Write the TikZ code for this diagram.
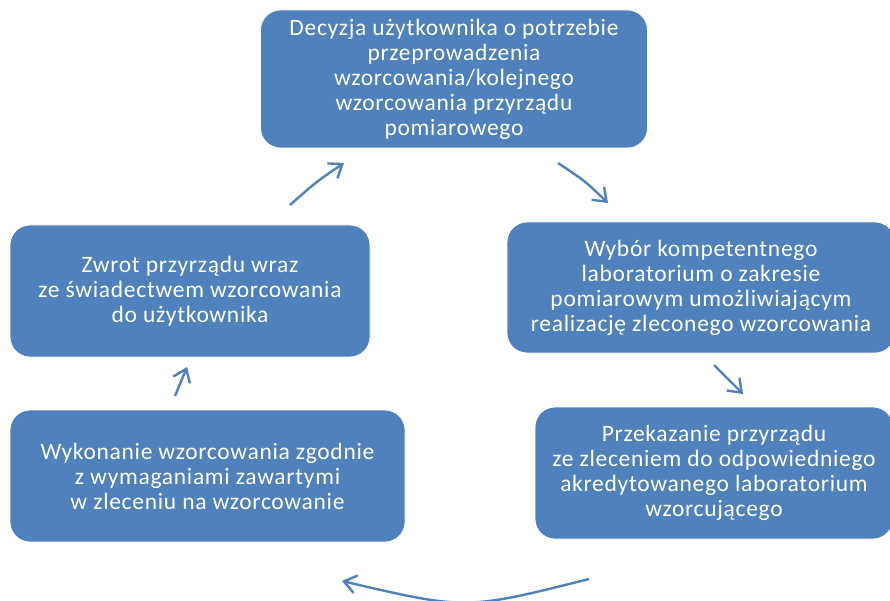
\documentclass[tikz,border=0pt]{standalone}
\usepackage{fontspec}
\setmainfont{Carlito}[LetterSpace=3]
\usetikzlibrary{arrows.meta}
\definecolor{boxblue}{HTML}{4F81BD}
\tikzset{
  stagebox/.style={fill=boxblue, draw=white, line width=0.8pt, rounded corners=20pt,
    text=white, align=center, inner sep=0pt,
    font=\fontsize{23.5}{25}\selectfont},
  flowarrow/.style={draw=boxblue, line width=2.4pt,
    -{Straight Barb[length=12pt,width=18pt,line width=2.4pt]}}
}
\begin{document}
\begin{tikzpicture}[x=1pt,y=-1pt]
\clip (0,0) rectangle (890,601);
\fill[white] (0,0) rectangle (890,601);
\node[stagebox, minimum width=387pt, minimum height=138pt] (decision) at (454,79)
  {Decyzja użytkownika o potrzebie\\przeprowadzenia\\wzorcowania/kolejnego\\wzorcowania przyrządu\\pomiarowego};
\node[stagebox, minimum width=388pt, minimum height=131pt] (choice) at (701,287.5)
  {Wybór kompetentnego\\laboratorium o zakresie\\pomiarowym umożliwiającym\\realizację zleconego wzorcowania};
\node[stagebox, minimum width=358pt, minimum height=132pt] (handover) at (714,473)
  {Przekazanie przyrządu\\ze zleceniem do odpowiedniego\\akredytowanego laboratorium\\wzorcującego};
\node[stagebox, minimum width=395pt, minimum height=132pt] (execution) at (207.5,476)
  {Wykonanie wzorcowania zgodnie\\z wymaganiami zawartymi\\w zleceniu na wzorcowanie};
\node[stagebox, minimum width=360pt, minimum height=132pt] (return) at (190,291)
  {Zwrot przyrządu wraz\\ze świadectwem wzorcowania\\do użytkownika};
% arrow end points
\coordinate (a1s) at (290,205); \coordinate (a1e) at (344,163);
\coordinate (a2s) at (558,163); \coordinate (a2e) at (608,203);
\coordinate (a3s) at (714,365); \coordinate (a3e) at (743,394);
\coordinate (a4s) at (589,579); \coordinate (a4e) at (342,581);
\coordinate (a5s) at (175,396); \coordinate (a5e) at (187,367);
\draw[flowarrow] (a1s) .. controls (316,182) .. (a1e);
\draw[flowarrow] (a2s) .. controls (585,181) .. (a2e);
\draw[flowarrow] (a3s) -- (a3e);
\draw[flowarrow] (a4s) .. controls (466,610) .. (a4e);
\draw[flowarrow] (a5s) -- (a5e);
\end{tikzpicture}
\end{document}
